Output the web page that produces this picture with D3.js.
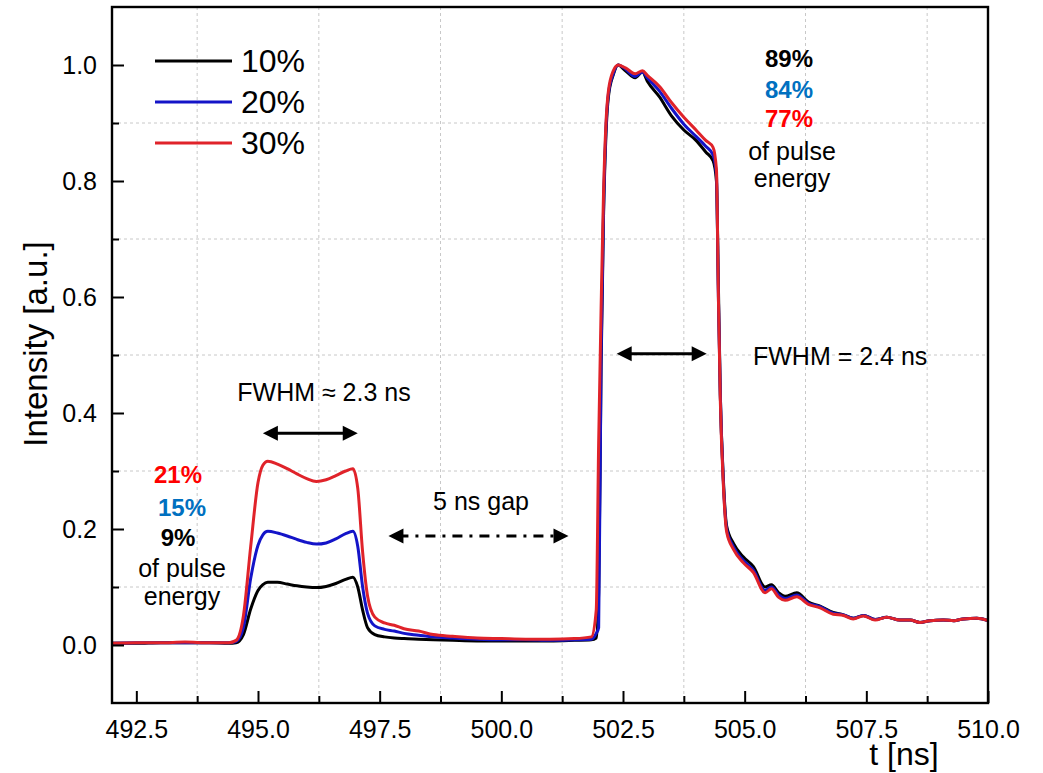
<!DOCTYPE html>
<html>
<head>
<meta charset="utf-8">
<script src="https://cdn.jsdelivr.net/npm/d3@7"></script>
<style>
  html, body { margin: 0; padding: 0; background: #fff; }
  svg { display: block; }
  text { font-family: "Liberation Sans", Arial, Helvetica, sans-serif; }
</style>
</head>
<body>
<svg id="chart" width="1043" height="773"></svg>
<script>
// ---------- data ----------
const time = [492.0, 492.5, 493.0, 493.5, 494.0, 494.4, 494.55, 494.7, 494.85, 495.0,
  495.1, 495.2, 495.4, 495.6, 495.8, 496.0, 496.2, 496.4, 496.6, 496.8,
  496.95, 497.05, 497.15, 497.25, 497.4, 497.6, 497.8, 498.0, 498.3, 498.6,
  499.0, 499.5, 500.0, 500.5, 501.0, 501.5, 501.85, 501.95, 502.0, 502.05,
  502.1, 502.15, 502.2, 502.3, 502.4, 502.55, 502.75, 502.9, 503.0, 503.25,
  503.5, 503.75, 504.0, 504.2, 504.35, 504.42, 504.46, 504.5, 504.56, 504.63,
  504.77, 504.97, 505.18, 505.42, 505.55, 505.7, 505.83, 506.07, 506.31, 506.55,
  506.82, 507.03, 507.23, 507.44, 507.68, 507.92, 508.19, 508.4, 508.6, 508.81,
  509.08, 509.3, 509.49, 509.77, 510.0];

const intensity10 = [0.003, 0.003, 0.004, 0.004, 0.004, 0.003, 0.004, 0.018, 0.062, 0.094,
  0.104, 0.108, 0.108, 0.105, 0.102, 0.100, 0.099, 0.101, 0.106, 0.113,
  0.117, 0.100, 0.060, 0.030, 0.018, 0.014, 0.012, 0.011, 0.010, 0.009,
  0.008, 0.007, 0.007, 0.007, 0.007, 0.008, 0.009, 0.012, 0.090, 0.480,
  0.740, 0.880, 0.945, 0.983, 1.000, 0.990, 0.978, 0.988, 0.972, 0.945,
  0.912, 0.888, 0.870, 0.850, 0.835, 0.800, 0.620, 0.430, 0.290, 0.205,
  0.175, 0.152, 0.135, 0.100, 0.104, 0.090, 0.084, 0.090, 0.074, 0.067,
  0.056, 0.052, 0.046, 0.051, 0.044, 0.048, 0.043, 0.043, 0.039, 0.042,
  0.043, 0.042, 0.045, 0.046, 0.042];

const intensity20 = [0.003, 0.004, 0.004, 0.004, 0.004, 0.004, 0.006, 0.030, 0.115, 0.172,
  0.190, 0.196, 0.193, 0.188, 0.182, 0.177, 0.174, 0.176, 0.183, 0.192,
  0.196, 0.170, 0.100, 0.055, 0.033, 0.027, 0.024, 0.020, 0.017, 0.014,
  0.012, 0.010, 0.009, 0.009, 0.008, 0.009, 0.010, 0.020, 0.030, 0.500,
  0.750, 0.890, 0.950, 0.985, 1.000, 0.993, 0.980, 0.988, 0.978, 0.955,
  0.925, 0.898, 0.877, 0.860, 0.845, 0.810, 0.600, 0.430, 0.285, 0.200,
  0.169, 0.146, 0.129, 0.094, 0.100, 0.086, 0.080, 0.086, 0.072, 0.066,
  0.055, 0.052, 0.046, 0.051, 0.044, 0.048, 0.043, 0.043, 0.039, 0.042,
  0.043, 0.042, 0.045, 0.046, 0.042];

const intensity30 = [0.003, 0.004, 0.004, 0.005, 0.004, 0.004, 0.008, 0.050, 0.170, 0.280,
  0.310, 0.317, 0.312, 0.304, 0.295, 0.287, 0.282, 0.285, 0.292, 0.300,
  0.304, 0.270, 0.160, 0.085, 0.048, 0.038, 0.034, 0.028, 0.024, 0.018,
  0.015, 0.012, 0.011, 0.010, 0.010, 0.011, 0.014, 0.060, 0.350, 0.580,
  0.780, 0.900, 0.955, 0.990, 1.000, 0.995, 0.985, 0.990, 0.982, 0.963,
  0.935, 0.910, 0.888, 0.870, 0.858, 0.820, 0.600, 0.420, 0.280, 0.195,
  0.165, 0.142, 0.125, 0.090, 0.097, 0.082, 0.077, 0.083, 0.070, 0.064,
  0.053, 0.051, 0.045, 0.050, 0.043, 0.048, 0.043, 0.043, 0.039, 0.042,
  0.043, 0.042, 0.045, 0.046, 0.042];

const seriesNames = ["10%", "20%", "30%"];
const xMajorTicks = [492.5, 495.0, 497.5, 500.0, 502.5, 505.0, 507.5, 510.0];
const xMinorTicks = [493.75, 496.25, 498.75, 501.25, 503.75, 506.25, 508.75];
const yMajorTicks = [0.0, 0.2, 0.4, 0.6, 0.8, 1.0];
const yMinorTicks = [0.1, 0.3, 0.5, 0.7, 0.9];

// ---------- layout ----------
const svg = d3.select("#chart");
const pL = 112, pR = 988, pT = 7, pB = 703;
const x = d3.scaleLinear().domain([492, 510]).range([pL, pR]);
const y = d3.scaleLinear().domain([-0.1, 1.1]).range([pB, pT]);

const colors = ["#000000", "#1414c8", "#e0232a"];
const FONT = '"Liberation Sans", Arial, Helvetica, sans-serif';

// grid (dashed at minor positions)
const grid = svg.append("g");
grid.selectAll("line.vx").data(xMinorTicks).join("line")
  .attr("x1", d => x(d)).attr("x2", d => x(d)).attr("y1", pT).attr("y2", pB)
  .attr("stroke", "#c8c8c8").attr("stroke-width", 1).attr("stroke-dasharray", "3,3");
grid.selectAll("line.hy").data(yMinorTicks).join("line")
  .attr("y1", d => y(d)).attr("y2", d => y(d)).attr("x1", pL).attr("x2", pR)
  .attr("stroke", "#c8c8c8").attr("stroke-width", 1).attr("stroke-dasharray", "3,3");

// curves
const series = [intensity10, intensity20, intensity30];
const line = d3.line().x(d => x(d[0])).y(d => y(d[1])).curve(d3.curveMonotoneX);
series.forEach((vals, i) => {
  svg.append("path")
    .datum(time.map((t, k) => [t, vals[k]]))
    .attr("d", line)
    .attr("fill", "none")
    .attr("stroke", colors[i])
    .attr("stroke-width", 3)
    .attr("stroke-linejoin", "round");
});

// axes (ticks inward)
const xAxis = d3.axisBottom(x).tickValues(xMajorTicks).tickSize(-12).tickPadding(24)
  .tickFormat(d3.format(".1f"));
const gx = svg.append("g").attr("transform", `translate(0,${pB})`).call(xAxis);
gx.select(".domain").remove();
gx.selectAll(".tick line").attr("stroke", "#000").attr("stroke-width", 2);
gx.selectAll(".tick text").attr("font-size", 25).attr("font-family", FONT).attr("fill", "#000")
  .attr("dy", null).attr("y", 35);

const gxm = svg.append("g").attr("transform", `translate(0,${pB})`)
  .call(d3.axisBottom(x).tickValues(xMinorTicks).tickSize(-7).tickFormat(""));
gxm.select(".domain").remove();
gxm.selectAll(".tick line").attr("stroke", "#000").attr("stroke-width", 2);

const yAxis = d3.axisLeft(y).tickValues(yMajorTicks).tickSize(-12).tickPadding(15)
  .tickFormat(d3.format(".1f"));
const gy = svg.append("g").attr("transform", `translate(${pL},0)`).call(yAxis);
gy.select(".domain").remove();
gy.selectAll(".tick line").attr("stroke", "#000").attr("stroke-width", 2);
gy.selectAll(".tick text").attr("font-size", 25).attr("font-family", FONT).attr("fill", "#000")
  .attr("dy", "0.35em");

const gym = svg.append("g").attr("transform", `translate(${pL},0)`)
  .call(d3.axisLeft(y).tickValues(yMinorTicks).tickSize(-7).tickFormat(""));
gym.select(".domain").remove();
gym.selectAll(".tick line").attr("stroke", "#000").attr("stroke-width", 2);

// frame
svg.append("rect").attr("x", pL).attr("y", pT).attr("width", pR - pL).attr("height", pB - pT)
  .attr("fill", "none").attr("stroke", "#000").attr("stroke-width", 2.4);

// axis titles
svg.append("text").attr("transform", `translate(47,${(pT + pB) / 2 - 11}) rotate(-90)`)
  .attr("text-anchor", "middle").attr("font-size", 33).attr("fill", "#000").text("Intensity [a.u.]");
svg.append("text").attr("x", 904).attr("y", 765).attr("text-anchor", "middle")
  .attr("font-size", 32).attr("fill", "#000").text("t [ns]");

// legend
const legend = svg.append("g");
seriesNames.forEach((name, i) => {
  const ly = 61 + i * 41;
  legend.append("line").attr("x1", 155).attr("x2", 232).attr("y1", ly).attr("y2", ly)
    .attr("stroke", colors[i]).attr("stroke-width", 3);
  legend.append("text").attr("x", 241).attr("y", ly + 11).attr("font-size", 32).attr("fill", "#000").text(name);
});

// ---------- annotations ----------
function arrowHead(g, xTip, yTip, dir) {
  const L = 15, W = 7.5;
  g.append("path")
    .attr("d", `M${xTip},${yTip} L${xTip - dir * L},${yTip - W} L${xTip - dir * L},${yTip + W} Z`)
    .attr("fill", "#000");
}
function doubleArrow(t1, t2, v, dash) {
  const g = svg.append("g");
  const x1 = x(t1), x2 = x(t2), yy = y(v);
  g.append("line").attr("x1", x1 + 10).attr("x2", x2 - 10).attr("y1", yy).attr("y2", yy)
    .attr("stroke", "#000").attr("stroke-width", 3).attr("stroke-dasharray", dash || null);
  arrowHead(g, x1, yy, -1);
  arrowHead(g, x2, yy, 1);
}
doubleArrow(495.1, 497.05, 0.365);
doubleArrow(502.37, 504.22, 0.502);
doubleArrow(497.68, 501.38, 0.188, "10,7,3,7");

function label(xp, yp, txt, opts = {}) {
  svg.append("text").attr("x", xp).attr("y", yp)
    .attr("text-anchor", opts.anchor || "middle")
    .attr("font-size", opts.size || 25)
    .attr("font-weight", opts.bold ? "bold" : "normal")
    .attr("fill", opts.color || "#000")
    .text(txt);
}
label(324, 401, "FWHM ≈ 2.3 ns");
label(753, 365, "FWHM = 2.4 ns", { anchor: "start" });
label(481, 510, "5 ns gap");

// right block
label(789, 67, "89%", { bold: true, size: 24 });
label(789, 98, "84%", { bold: true, size: 24, color: "#0070c0" });
label(789, 127, "77%", { bold: true, size: 24, color: "#ff0000" });
label(792, 160, "of pulse");
label(792, 187, "energy");

// left block
label(178, 483, "21%", { bold: true, size: 24, color: "#ff0000" });
label(182, 516, "15%", { bold: true, size: 24, color: "#0070c0" });
label(178, 546, "9%", { bold: true, size: 24 });
label(182, 577, "of pulse");
label(182, 605, "energy");
</script>
</body>
</html>
